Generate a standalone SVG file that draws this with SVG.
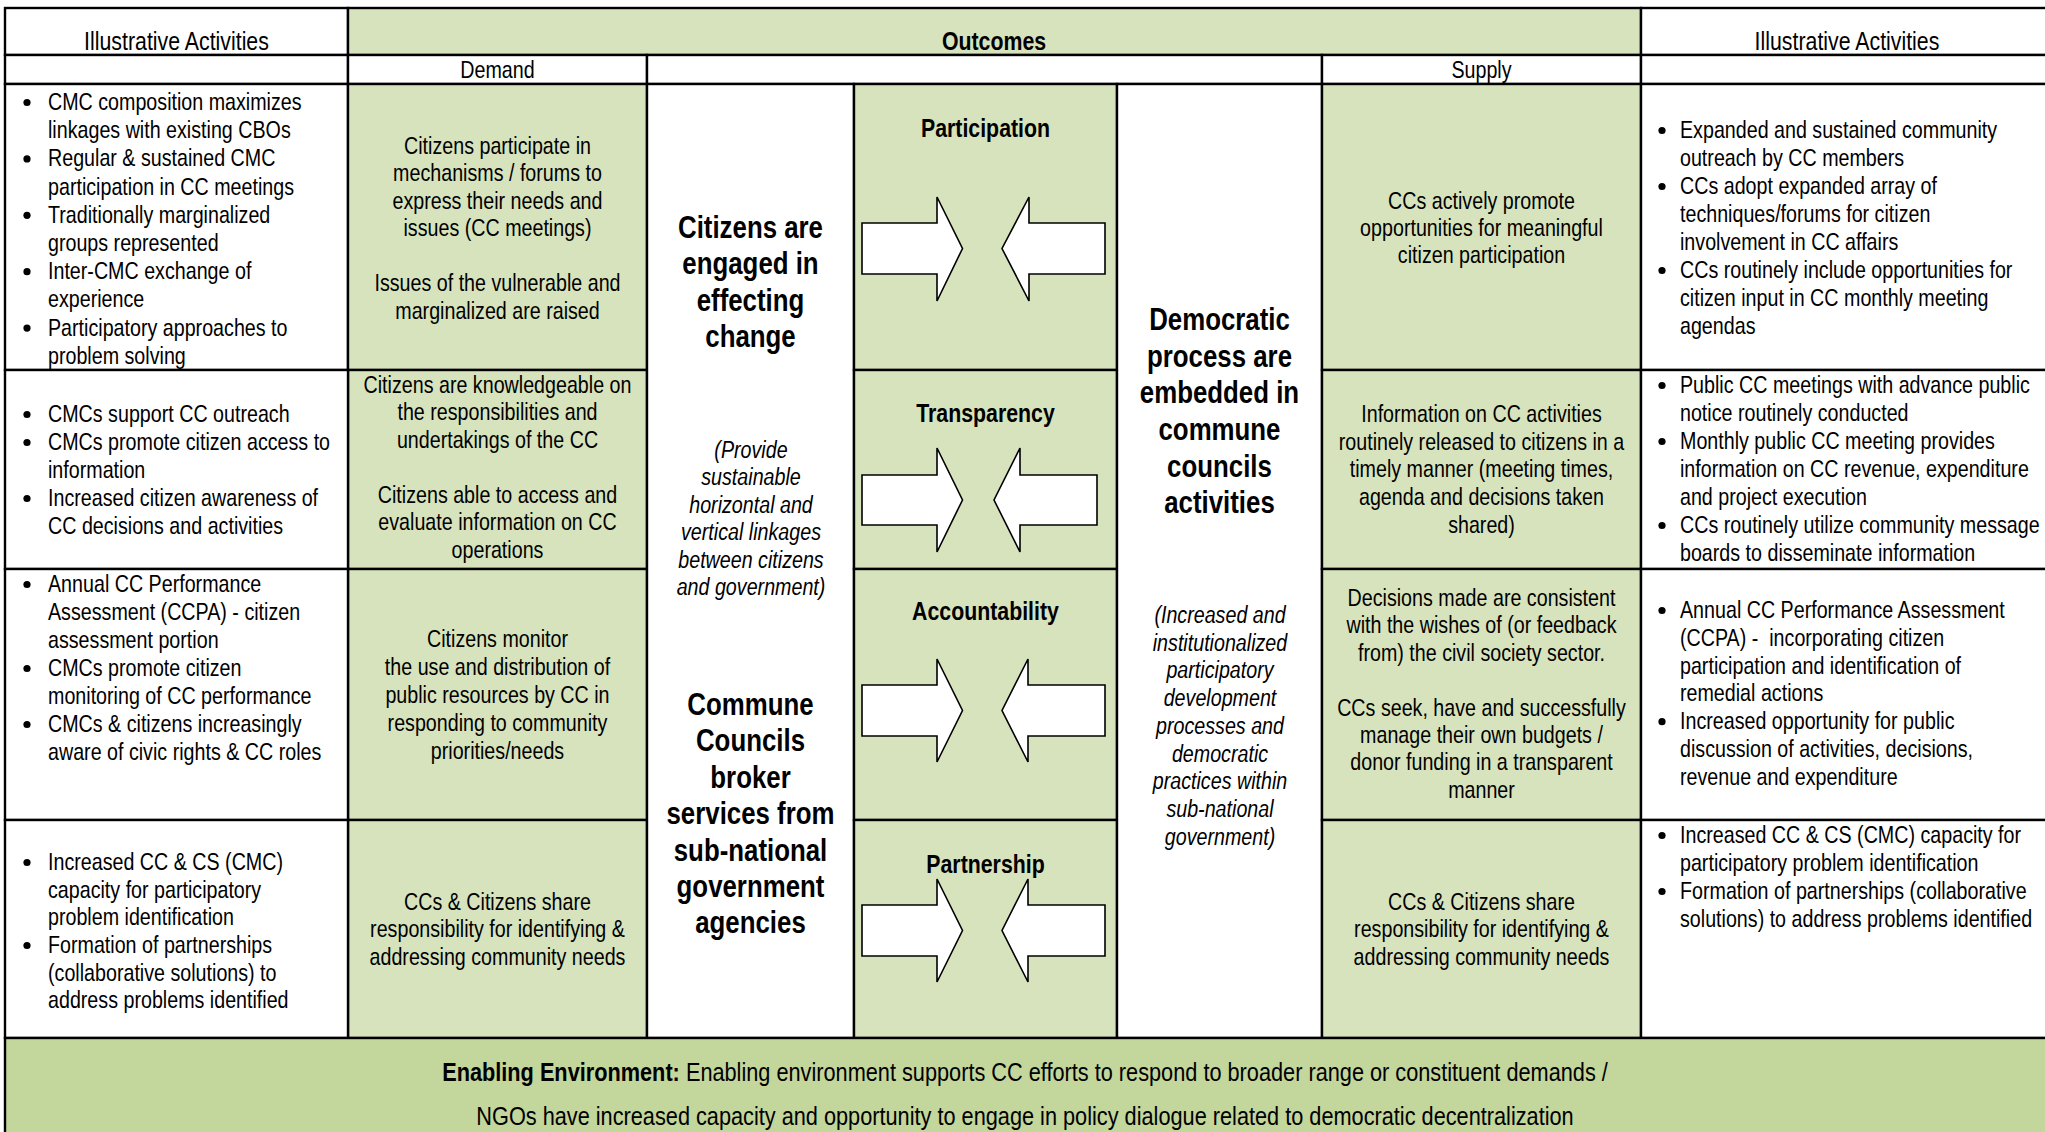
<svg xmlns="http://www.w3.org/2000/svg" width="2045" height="1132" viewBox="0 0 2045 1132">
<style>
text{font-family:'Liberation Sans Narrow','Arial Narrow','Liberation Sans',Arial,sans-serif;font-size:24px;fill:#000}
.c{text-anchor:middle}
.b{font-weight:bold}
.i{font-style:italic}
.h{font-size:26px}
.e{font-size:26.5px}
.big{font-size:31.5px;font-weight:bold;text-anchor:middle}
.cell{stroke:#000;stroke-width:2.4}
.w{fill:#fff}
.g{fill:#D7E3BC}
.g2{fill:#C3D69B}
.arr{fill:#fff;stroke:#000;stroke-width:1.6;stroke-linejoin:miter}
</style>
<defs><circle id="dot" r="3.6" fill="#000"/></defs>
<rect width="2045" height="1132" fill="#fff"/>

<g id="hdr-ia-left"><rect class="cell w" x="5" y="8" width="343" height="47"/><text class="c h" x="176.5" y="50" transform="matrix(0.82,0,0,1,31.77,0)">Illustrative Activities</text></g>
<g id="hdr-outcomes"><rect class="cell g" x="348" y="8" width="1293" height="47"/><text class="c h b" x="994" y="50" transform="matrix(0.82,0,0,1,178.92,0)">Outcomes</text></g>
<g id="hdr-ia-right"><rect class="cell w" x="1641" y="8" width="420" height="47"/><text class="c h" x="1847" y="50" transform="matrix(0.82,0,0,1,332.46,0)">Illustrative Activities</text></g>

<g id="sub-left"><rect class="cell w" x="5" y="55" width="343" height="29"/></g>
<g id="sub-demand"><rect class="cell w" x="348" y="55" width="299" height="29"/><text class="c" x="497.5" y="78" transform="matrix(0.82,0,0,1,89.55,0)">Demand</text></g>
<g id="sub-mid"><rect class="cell w" x="647" y="55" width="675" height="29"/></g>
<g id="sub-supply"><rect class="cell w" x="1322" y="55" width="319" height="29"/><text class="c" x="1481.5" y="78" transform="matrix(0.82,0,0,1,266.67,0)">Supply</text></g>
<g id="sub-right"><rect class="cell w" x="1641" y="55" width="420" height="29"/></g>

<g id="act-left-1"><rect class="cell w" x="5" y="84" width="343" height="286"/>
<use href="#dot" x="27" y="102.5"/><use href="#dot" x="27" y="158.9"/><use href="#dot" x="27" y="215.3"/><use href="#dot" x="27" y="271.7"/><use href="#dot" x="27" y="328.1"/>
<text transform="matrix(0.82,0,0,1,8.64,0)"><tspan x="48" y="110">CMC composition maximizes</tspan><tspan x="48" y="138.2">linkages with existing CBOs</tspan><tspan x="48" y="166.4">Regular &amp; sustained CMC</tspan><tspan x="48" y="194.6">participation in CC meetings</tspan><tspan x="48" y="222.8">Traditionally marginalized</tspan><tspan x="48" y="251">groups represented</tspan><tspan x="48" y="279.2">Inter-CMC exchange of</tspan><tspan x="48" y="307.4">experience</tspan><tspan x="48" y="335.6">Participatory approaches to</tspan><tspan x="48" y="363.8">problem solving</tspan></text></g>

<g id="demand-1"><rect class="cell g" x="348" y="84" width="299" height="286"/>
<text class="c" transform="matrix(0.82,0,0,1,89.55,0)"><tspan x="497.5" y="154">Citizens participate in</tspan><tspan x="497.5" y="181.5">mechanisms / forums to</tspan><tspan x="497.5" y="209">express their needs and</tspan><tspan x="497.5" y="236.5">issues (CC meetings)</tspan><tspan x="497.5" y="291.5">Issues of the vulnerable and</tspan><tspan x="497.5" y="319">marginalized are raised</tspan></text></g>

<g id="demand-2"><rect class="cell g" x="348" y="370" width="299" height="199"/>
<text class="c" transform="matrix(0.82,0,0,1,89.55,0)"><tspan x="497.5" y="393">Citizens are knowledgeable on</tspan><tspan x="497.5" y="420.5">the responsibilities and</tspan><tspan x="497.5" y="448">undertakings of the CC</tspan><tspan x="497.5" y="503">Citizens able to access and</tspan><tspan x="497.5" y="530.5">evaluate information on CC</tspan><tspan x="497.5" y="558">operations</tspan></text></g>

<g id="demand-3"><rect class="cell g" x="348" y="569" width="299" height="251"/>
<text class="c" transform="matrix(0.82,0,0,1,89.55,0)"><tspan x="497.5" y="647">Citizens monitor</tspan><tspan x="497.5" y="675">the use and distribution of</tspan><tspan x="497.5" y="703">public resources by CC in</tspan><tspan x="497.5" y="731">responding to community</tspan><tspan x="497.5" y="759">priorities/needs</tspan></text></g>

<g id="demand-4"><rect class="cell g" x="348" y="820" width="299" height="218"/>
<text class="c" transform="matrix(0.82,0,0,1,89.55,0)"><tspan x="497.5" y="910">CCs &amp; Citizens share</tspan><tspan x="497.5" y="937.5">responsibility for identifying &amp;</tspan><tspan x="497.5" y="965">addressing community needs</tspan></text></g>

<g id="act-left-2"><rect class="cell w" x="5" y="370" width="343" height="199"/>
<use href="#dot" x="27" y="414.5"/><use href="#dot" x="27" y="442.5"/><use href="#dot" x="27" y="498.5"/>
<text transform="matrix(0.82,0,0,1,8.64,0)"><tspan x="48" y="422">CMCs support CC outreach</tspan><tspan x="48" y="450">CMCs promote citizen access to</tspan><tspan x="48" y="478">information</tspan><tspan x="48" y="506">Increased citizen awareness of</tspan><tspan x="48" y="534">CC decisions and activities</tspan></text></g>

<g id="act-left-3"><rect class="cell w" x="5" y="569" width="343" height="251"/>
<use href="#dot" x="27" y="584.5"/><use href="#dot" x="27" y="668.5"/><use href="#dot" x="27" y="724.5"/>
<text transform="matrix(0.82,0,0,1,8.64,0)"><tspan x="48" y="592">Annual CC Performance</tspan><tspan x="48" y="620">Assessment (CCPA) - citizen</tspan><tspan x="48" y="648">assessment portion</tspan><tspan x="48" y="676">CMCs promote citizen</tspan><tspan x="48" y="704">monitoring of CC performance</tspan><tspan x="48" y="732">CMCs &amp; citizens increasingly</tspan><tspan x="48" y="760">aware of civic rights &amp; CC roles</tspan></text></g>

<g id="act-left-4"><rect class="cell w" x="5" y="820" width="343" height="218"/>
<use href="#dot" x="27" y="862.5"/><use href="#dot" x="27" y="945.5"/>
<text transform="matrix(0.82,0,0,1,8.64,0)"><tspan x="48" y="870">Increased CC &amp; CS (CMC)</tspan><tspan x="48" y="897.7">capacity for participatory</tspan><tspan x="48" y="925.4">problem identification</tspan><tspan x="48" y="953">Formation of partnerships</tspan><tspan x="48" y="980.8">(collaborative solutions) to</tspan><tspan x="48" y="1008.5">address problems identified</tspan></text></g>

<g id="outcome-citizens"><rect class="cell w" x="647" y="84" width="207" height="954"/>
<text class="big" transform="matrix(0.82,0,0,1,135.09,0)"><tspan x="750.5" y="238">Citizens are</tspan><tspan x="750.5" y="274.4">engaged in</tspan><tspan x="750.5" y="310.8">effecting</tspan><tspan x="750.5" y="347.2">change</tspan></text>
<text class="c i" transform="matrix(0.82,0,0,1,135.18,0)"><tspan x="751" y="458">(Provide</tspan><tspan x="751" y="485.5">sustainable</tspan><tspan x="751" y="513">horizontal and</tspan><tspan x="751" y="540.5">vertical linkages</tspan><tspan x="751" y="568">between citizens</tspan><tspan x="751" y="595.5">and government)</tspan></text>
<text class="big" transform="matrix(0.82,0,0,1,135.09,0)"><tspan x="750.5" y="715">Commune</tspan><tspan x="750.5" y="751.4">Councils</tspan><tspan x="750.5" y="787.8">broker</tspan><tspan x="750.5" y="824.2">services from</tspan><tspan x="750.5" y="860.6">sub-national</tspan><tspan x="750.5" y="897">government</tspan><tspan x="750.5" y="933.4">agencies</tspan></text></g>

<g id="participation"><rect class="cell g" x="854" y="84" width="263" height="286"/><text class="c h b" x="985.5" y="136.7" transform="matrix(0.82,0,0,1,177.39,0)">Participation</text></g>
<g id="transparency"><rect class="cell g" x="854" y="370" width="263" height="199"/><text class="c h b" x="985.5" y="421.7" transform="matrix(0.82,0,0,1,177.39,0)">Transparency</text></g>
<g id="accountability"><rect class="cell g" x="854" y="569" width="263" height="251"/><text class="c h b" x="985.5" y="620" transform="matrix(0.82,0,0,1,177.39,0)">Accountability</text></g>
<g id="partnership"><rect class="cell g" x="854" y="820" width="263" height="218"/><text class="c h b" x="985.5" y="872.7" transform="matrix(0.82,0,0,1,177.39,0)">Partnership</text></g>

<g id="outcome-democratic"><rect class="cell w" x="1117" y="84" width="205" height="954"/>
<text class="big" transform="matrix(0.82,0,0,1,219.51,0)"><tspan x="1219.5" y="330">Democratic</tspan><tspan x="1219.5" y="366.7">process are</tspan><tspan x="1219.5" y="403.4">embedded in</tspan><tspan x="1219.5" y="440.1">commune</tspan><tspan x="1219.5" y="476.8">councils</tspan><tspan x="1219.5" y="513.5">activities</tspan></text>
<text class="c i" transform="matrix(0.82,0,0,1,219.6,0)"><tspan x="1220" y="623">(Increased and</tspan><tspan x="1220" y="650.75">institutionalized</tspan><tspan x="1220" y="678.5">participatory</tspan><tspan x="1220" y="706.25">development</tspan><tspan x="1220" y="734">processes and</tspan><tspan x="1220" y="761.75">democratic</tspan><tspan x="1220" y="789.5">practices within</tspan><tspan x="1220" y="817.25">sub-national</tspan><tspan x="1220" y="845">government)</tspan></text></g>

<g id="supply-1"><rect class="cell g" x="1322" y="84" width="319" height="286"/>
<text class="c" transform="matrix(0.82,0,0,1,266.67,0)"><tspan x="1481.5" y="209">CCs actively promote</tspan><tspan x="1481.5" y="236">opportunities for meaningful</tspan><tspan x="1481.5" y="263">citizen participation</tspan></text></g>
<g id="supply-2"><rect class="cell g" x="1322" y="370" width="319" height="199"/>
<text class="c" transform="matrix(0.82,0,0,1,266.67,0)"><tspan x="1481.5" y="422">Information on CC activities</tspan><tspan x="1481.5" y="449.75">routinely released to citizens in a</tspan><tspan x="1481.5" y="477.5">timely manner (meeting times,</tspan><tspan x="1481.5" y="505.25">agenda and decisions taken</tspan><tspan x="1481.5" y="533">shared)</tspan></text></g>
<g id="supply-3"><rect class="cell g" x="1322" y="569" width="319" height="251"/>
<text class="c" transform="matrix(0.82,0,0,1,266.67,0)"><tspan x="1481.5" y="606">Decisions made are consistent</tspan><tspan x="1481.5" y="633.4">with the wishes of (or feedback</tspan><tspan x="1481.5" y="660.8">from) the civil society sector.</tspan><tspan x="1481.5" y="715.6">CCs seek, have and successfully</tspan><tspan x="1481.5" y="743">manage their own budgets /</tspan><tspan x="1481.5" y="770.4">donor funding in a transparent</tspan><tspan x="1481.5" y="797.8">manner</tspan></text></g>
<g id="supply-4"><rect class="cell g" x="1322" y="820" width="319" height="218"/>
<text class="c" transform="matrix(0.82,0,0,1,266.67,0)"><tspan x="1481.5" y="910">CCs &amp; Citizens share</tspan><tspan x="1481.5" y="937.5">responsibility for identifying &amp;</tspan><tspan x="1481.5" y="965">addressing community needs</tspan></text></g>

<g id="act-right-1"><rect class="cell w" x="1641" y="84" width="420" height="286"/>
<use href="#dot" x="1662" y="130.5"/><use href="#dot" x="1662" y="186.5"/><use href="#dot" x="1662" y="270.5"/>
<text transform="matrix(0.82,0,0,1,302.4,0)"><tspan x="1680" y="138">Expanded and sustained community</tspan><tspan x="1680" y="166">outreach by CC members</tspan><tspan x="1680" y="194">CCs adopt expanded array of</tspan><tspan x="1680" y="222">techniques/forums for citizen</tspan><tspan x="1680" y="250">involvement in CC affairs</tspan><tspan x="1680" y="278">CCs routinely include opportunities for</tspan><tspan x="1680" y="306">citizen input in CC monthly meeting</tspan><tspan x="1680" y="334">agendas</tspan></text></g>
<g id="act-right-2"><rect class="cell w" x="1641" y="370" width="420" height="199"/>
<use href="#dot" x="1662" y="385.5"/><use href="#dot" x="1662" y="441.5"/><use href="#dot" x="1662" y="525.5"/>
<text transform="matrix(0.82,0,0,1,302.4,0)"><tspan x="1680" y="393">Public CC meetings with advance public</tspan><tspan x="1680" y="421">notice routinely conducted</tspan><tspan x="1680" y="449">Monthly public CC meeting provides</tspan><tspan x="1680" y="477">information on CC revenue, expenditure</tspan><tspan x="1680" y="505">and project execution</tspan><tspan x="1680" y="533">CCs routinely utilize community message</tspan><tspan x="1680" y="561">boards to disseminate information</tspan></text></g>
<g id="act-right-3"><rect class="cell w" x="1641" y="569" width="420" height="251"/>
<use href="#dot" x="1662" y="610.5"/><use href="#dot" x="1662" y="721.7"/>
<text xml:space="preserve" transform="matrix(0.82,0,0,1,302.4,0)"><tspan x="1680" y="618">Annual CC Performance Assessment</tspan><tspan x="1680" y="645.8">(CCPA) -  incorporating citizen</tspan><tspan x="1680" y="673.6">participation and identification of</tspan><tspan x="1680" y="701.4">remedial actions</tspan><tspan x="1680" y="729.2">Increased opportunity for public</tspan><tspan x="1680" y="757">discussion of activities, decisions,</tspan><tspan x="1680" y="784.8">revenue and expenditure</tspan></text></g>
<g id="act-right-4"><rect class="cell w" x="1641" y="820" width="420" height="218"/>
<use href="#dot" x="1662" y="835.5"/><use href="#dot" x="1662" y="891.5"/>
<text transform="matrix(0.82,0,0,1,302.4,0)"><tspan x="1680" y="843">Increased CC &amp; CS (CMC) capacity for</tspan><tspan x="1680" y="871">participatory problem identification</tspan><tspan x="1680" y="899">Formation of partnerships (collaborative</tspan><tspan x="1680" y="927">solutions) to address problems identified</tspan></text></g>

<g id="enabling-environment"><rect class="cell g2" x="5" y="1038" width="2056" height="110"/>
<text class="c e" x="1025" y="1081" transform="matrix(0.82,0,0,1,184.5,0)"><tspan class="b">Enabling Environment:</tspan> Enabling environment supports CC efforts to respond to broader range or constituent demands /</text>
<text class="c e" x="1025" y="1125" transform="matrix(0.82,0,0,1,184.5,0)">NGOs have increased capacity and opportunity to engage in policy dialogue related to democratic decentralization</text></g>

<g id="connectors">
<path class="arr" d="M862,223 H937 V197 L962.5,248.5 L937,301 V274 H862 Z"/>
<path class="arr" d="M1105,223 H1029 V197 L1002,248.5 L1029,301 V274 H1105 Z"/>
<path class="arr" d="M862,475 H937 V448 L962.5,500 L937,552 V525 H862 Z"/>
<path class="arr" d="M1097,475 H1020 V448 L994,500 L1020,552 V525 H1097 Z"/>
<path class="arr" d="M862,685 H937 V659 L962.5,710.5 L937,762 V736 H862 Z"/>
<path class="arr" d="M1105,685 H1028 V659 L1002,710.5 L1028,762 V736 H1105 Z"/>
<path class="arr" d="M862,905 H937 V879 L962.5,930.5 L937,982 V956 H862 Z"/>
<path class="arr" d="M1105,905 H1028 V879 L1002,930.5 L1028,982 V956 H1105 Z"/>
</g>
</svg>
